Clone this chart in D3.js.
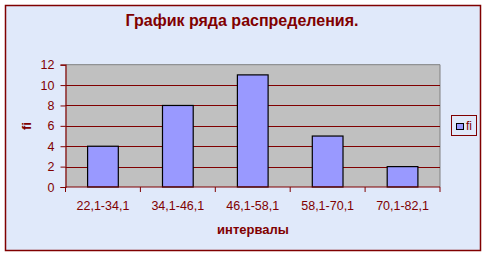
<!DOCTYPE html>
<html><head><meta charset="utf-8">
<script src="https://cdn.jsdelivr.net/npm/d3@7"></script>
<style>body{margin:0;background:#fff}svg{display:block}text{font-family:"Liberation Sans",Arial,sans-serif}</style>
</head><body>
<script>
const categories = ["22,1-34,1","34,1-46,1","46,1-58,1","58,1-70,1","70,1-82,1"];
const values = [4, 8, 11, 5, 2];
const yTicks = [0, 2, 4, 6, 8, 10, 12];
const title = "График ряда распределения.";
const xTitle = "интервалы";
const yTitle = "fi";
const seriesName = "fi";

(function(){
const W = 487, H = 257;
const red = "#800000";
const svg = d3.select("body").append("svg").attr("width", W).attr("height", H);
svg.append("rect").attr("x",5.5).attr("y",5.5).attr("width",475).attr("height",245)
  .attr("fill","#E0E9FA").attr("stroke",red).attr("stroke-width",1.5);

const pL = 65.5, pR = 440, pT = 64.7, pB = 187;
const x = d3.scaleBand().domain(categories).range([pL,pR]).paddingInner(0.59).paddingOuter(0.295);
const xb = d3.scaleBand().domain(categories).range([pL,pR]);
const y = d3.scaleLinear().domain([0,12]).range([pB,pT]);

svg.append("rect").attr("x",pL).attr("y",pT).attr("width",pR-pL).attr("height",pB-pT)
  .attr("fill","#C0C0C0");
svg.append("path").attr("d",`M${pL},${pT}H${pR}V${pB}`).attr("fill","none").attr("stroke","#808080").attr("stroke-width",1);

svg.selectAll(".grid").data(yTicks.filter(d=>d>0&&d<12)).enter().append("line")
  .attr("x1",pL).attr("x2",pR).attr("y1",d=>Math.round(y(d))+0.5).attr("y2",d=>Math.round(y(d))+0.5)
  .attr("stroke",red).attr("stroke-width",1);

svg.selectAll(".bar").data(values).enter().append("rect")
  .attr("x",(d,i)=>x(categories[i])).attr("width",x.bandwidth())
  .attr("y",d=>y(d)).attr("height",d=>pB-y(d))
  .attr("fill","#9999FF").attr("stroke","#000").attr("stroke-width",1.2);

const ya = svg.append("g").attr("transform",`translate(${pL},0)`)
  .call(d3.axisLeft(y).tickValues(yTicks).tickSize(5).tickPadding(6).tickFormat(d3.format("d")));
ya.select(".domain").attr("stroke",red).attr("stroke-width",1.2);
ya.selectAll(".tick line").attr("stroke",red);
ya.selectAll("text").attr("fill",red).attr("font-size","12.5px").style("font-family","Liberation Sans, Arial");

const boundaries = [...categories.map(c=>xb(c)), pR];
svg.append("line").attr("x1",pL).attr("x2",pR).attr("y1",pB).attr("y2",pB).attr("stroke",red).attr("stroke-width",1.2);
svg.selectAll(".xt").data(boundaries).enter().append("line")
  .attr("x1",d=>d).attr("x2",d=>d).attr("y1",pB).attr("y2",pB+5).attr("stroke",red);
svg.selectAll(".xl").data(categories).enter().append("text")
  .attr("x",d=>xb(d)+xb.bandwidth()/2).attr("y",209.5).attr("text-anchor","middle")
  .attr("fill",red).attr("font-size","12.5px").text(d=>d);

svg.append("text").attr("x",242).attr("y",25.5).attr("text-anchor","middle").attr("fill",red)
  .attr("font-size","16px").attr("font-weight","bold").text(title);
svg.append("text").attr("x",253).attr("y",234).attr("text-anchor","middle").attr("fill",red)
  .attr("font-size","13px").attr("font-weight","bold").text(xTitle);
svg.append("text").attr("transform","translate(31,126) rotate(-90)").attr("text-anchor","middle").attr("fill",red)
  .attr("font-size","13px").attr("font-weight","bold").text(yTitle);

svg.append("rect").attr("x",451.5).attr("y",115.5).attr("width",25).attr("height",20)
  .attr("fill","#E0E9FA").attr("stroke",red).attr("stroke-width",1);
svg.append("rect").attr("x",456.5).attr("y",123.5).attr("width",7).attr("height",6)
  .attr("fill","#9999FF").attr("stroke","#000").attr("stroke-width",1);
svg.append("text").attr("x",466).attr("y",130).attr("fill",red).attr("font-size","12px").text(seriesName);
})();
</script>
</body></html>
